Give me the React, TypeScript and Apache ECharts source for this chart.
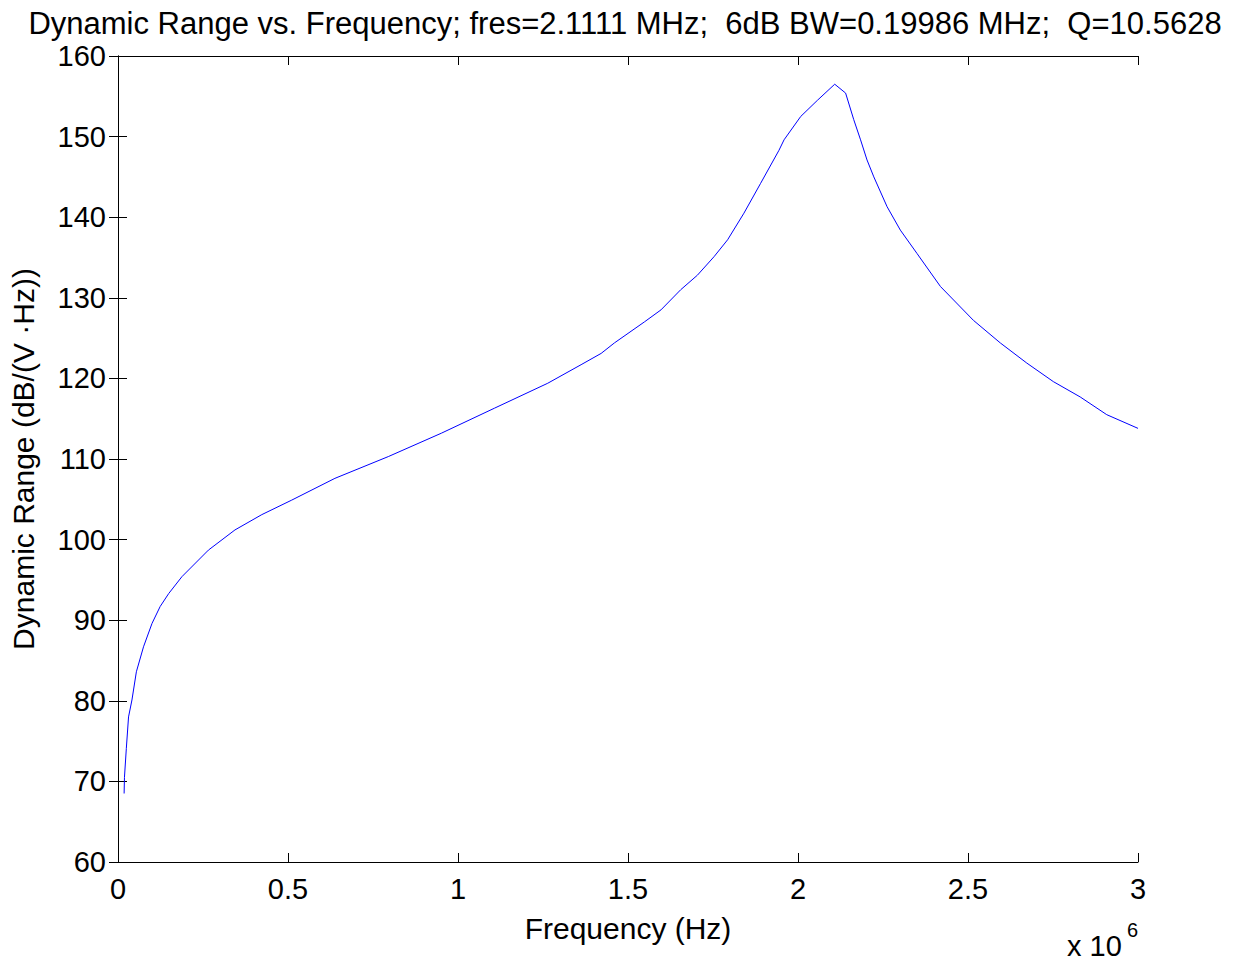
import React, { useEffect, useRef } from "react";
import * as echarts from "echarts";

// Frequency in units of 1e6 Hz (axis shows "x 10^6")
const freqMHz = [
  0.018, 0.019, 0.0245, 0.031, 0.041, 0.054, 0.075, 0.1, 0.124, 0.149, 0.188,
  0.266, 0.344, 0.423, 0.511, 0.638, 0.795, 0.951, 1.107, 1.264, 1.362, 1.421,
  1.46, 1.548, 1.597, 1.655, 1.704, 1.753, 1.793, 1.841, 1.89, 1.944, 1.959,
  2.008, 2.057, 2.108, 2.14, 2.164, 2.184, 2.203, 2.223, 2.262, 2.301, 2.35,
  2.419, 2.516, 2.595, 2.673, 2.751, 2.83, 2.908, 3.0,
];
const dynRange = [
  68.5, 70.5, 74.1, 78.0, 80.1, 83.6, 86.7, 89.6, 91.7, 93.3, 95.4,
  98.7, 101.2, 103.1, 104.9, 107.6, 110.3, 113.2, 116.3, 119.4, 121.7, 123.1,
  124.4, 127.0, 128.5, 131.0, 132.8, 135.1, 137.2, 140.5, 144.2, 148.3, 149.6,
  152.5, 154.5, 156.5, 155.4, 152.1, 149.6, 147.1, 145.0, 141.3, 138.4, 135.5,
  131.4, 127.2, 124.4, 121.9, 119.6, 117.7, 115.5, 113.8,
];
const titleText =
  "Dynamic Range vs. Frequency; fres=2.1111 MHz;  6dB BW=0.19986 MHz;  Q=10.5628";
const xName = "Frequency (Hz)";
const yName = "Dynamic Range (dB/(V \u00b7Hz))";

const FONT = "Liberation Sans, Arial, Helvetica, sans-serif";

export default function App() {
  const ref = useRef<HTMLDivElement>(null);
  useEffect(() => {
    if (!ref.current) return;
    const chart = echarts.init(ref.current, undefined, { renderer: "svg" });
    const data = freqMHz.map((f, i) => [f, dynRange[i]]);
    const axisLine = { show: true, lineStyle: { color: "#000", width: 1 } };
    const tick = { show: true, inside: true, length: 9, lineStyle: { color: "#000", width: 1 } };
    chart.setOption({
      animation: false,
      backgroundColor: "#fff",
      textStyle: { fontFamily: FONT },
      title: {
        text: titleText,
        left: 620,
        textAlign: "center",
        top: 3,
        textStyle: { fontFamily: FONT, fontSize: 31, fontWeight: "normal", color: "#000" },
      },
      grid: { left: 116, right: 98, top: 56, bottom: 98, containLabel: false },
      xAxis: [
        {
          type: "value",
          min: 0,
          max: 3,
          interval: 0.5,
          position: "bottom",
          axisLine,
          axisTick: tick,
          splitLine: { show: false },
          axisLabel: { color: "#000", fontSize: 29, fontFamily: FONT, margin: 12 },
          name: xName,
          nameLocation: "middle",
          nameGap: 51,
          nameTextStyle: { color: "#000", fontSize: 30, fontFamily: FONT },
        },
        {
          type: "value",
          min: 0,
          max: 3,
          interval: 0.5,
          position: "top",
          axisLine,
          axisTick: tick,
          splitLine: { show: false },
          axisLabel: { show: false },
        },
      ],
      yAxis: [
        {
          type: "value",
          min: 60,
          max: 160,
          interval: 10,
          position: "left",
          axisLine,
          axisTick: tick,
          splitLine: { show: false },
          axisLabel: { color: "#000", fontSize: 29, fontFamily: FONT, margin: 12 },
          name: yName,
          nameLocation: "middle",
          nameGap: 80,
          nameRotate: 90,
          nameTextStyle: { color: "#000", fontSize: 30, fontFamily: FONT },
        },
        {
          type: "value",
          min: 60,
          max: 160,
          interval: 10,
          position: "right",
          axisLine,
          axisTick: tick,
          splitLine: { show: false },
          axisLabel: { show: false },
        },
      ],
      graphic: [
        {
          type: "text",
          left: 1067,
          top: 931,
          style: { text: "x 10", fontSize: 29, fontFamily: FONT, fill: "#000" },
        },
        {
          type: "text",
          left: 1127,
          top: 920,
          style: { text: "6", fontSize: 20, fontFamily: FONT, fill: "#000" },
        },
      ],
      series: [
        {
          type: "line",
          xAxisIndex: 0,
          yAxisIndex: 0,
          data,
          showSymbol: false,
          symbol: "none",
          lineStyle: { color: "#0000ff", width: 1 },
          silent: true,
        },
      ],
    });
    return () => chart.dispose();
  }, []);
  return (
    <div
      ref={ref}
      style={{ position: "fixed", left: 0, top: 0, width: 1236, height: 960, background: "#fff" }}
    />
  );
}
